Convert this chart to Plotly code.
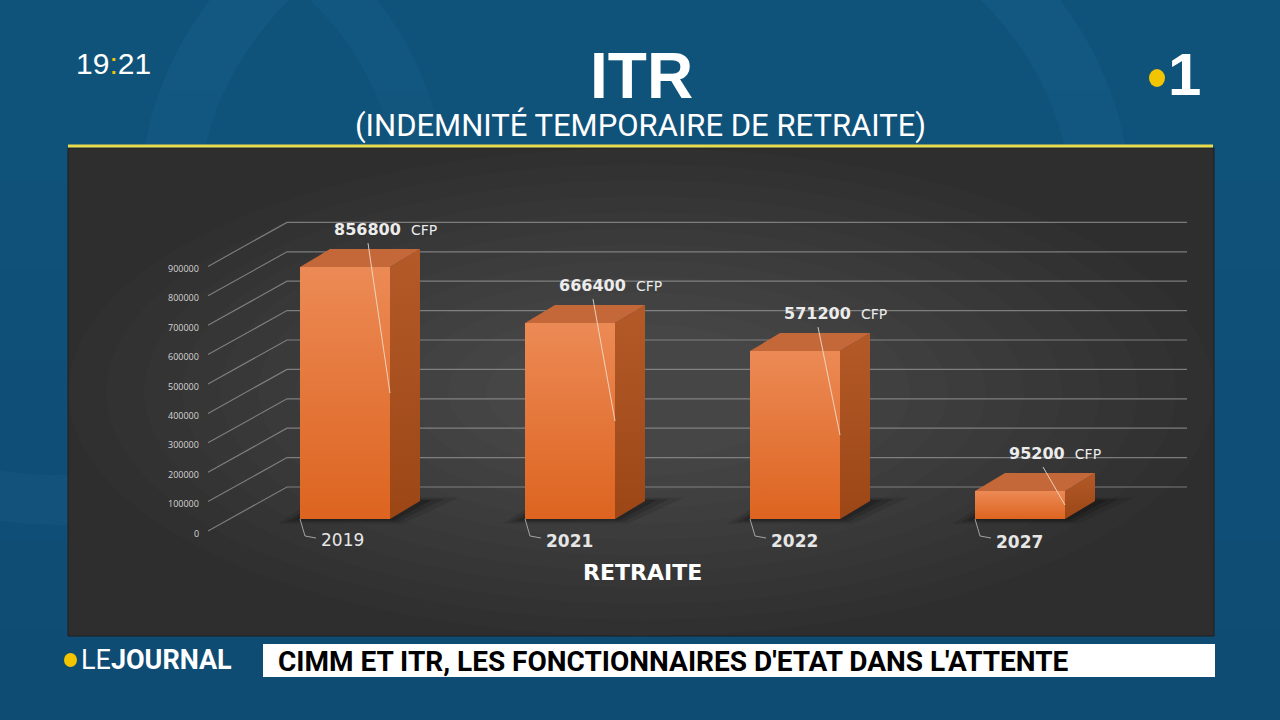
import plotly.graph_objects as go

# ---------------- data ----------------
categories = ["2019", "2021", "2022", "2027"]
values = [856800, 666400, 571200, 95200]
unit = "CFP"
tick_values = [0, 100000, 200000, 300000, 400000, 500000, 600000, 700000, 800000, 900000]
tick_labels = ["0", "100000", "200000", "300000", "400000", "500000", "600000", "700000", "800000", "900000"]
axis_title = "RETRAITE"
title = "ITR"
subtitle = "(INDEMNITÉ TEMPORAIRE DE RETRAITE)"
clock_h, clock_m = "19", "21"
banner_text = "CIMM ET ITR, LES FONCTIONNAIRES D'ETAT DANS L'ATTENTE"

W, H = 1280, 720
# axis scales (px per unit), used to express pseudo-3D depth in data units
XS = 225.0          # px per category step
X0 = 345.0          # px of first category centre
YS = 0.000294       # px per CFP
Y0 = 519.0          # px of value 0 on the bar front plane


def px2x(px):
    return (px - X0) / XS


def py2v(py):
    return (Y0 - py) / YS


def dpx(px):  # horizontal px -> category units
    return px / XS


def dpy(py):  # vertical px (upwards) -> value units
    return py / YS


def px_(x):
    return x / W


def py_(y):
    return 1 - y / H


NARROW = "Liberation Sans Narrow, Arial Narrow, Roboto, sans-serif"
SANS = "Liberation Sans, Arial, sans-serif"
LABEL = "DejaVu Sans, Verdana, sans-serif"

fig = go.Figure()

# ---------------- back wall grid ----------------
gx, gy = [], []
for t in tick_values:
    gx += [px2x(208), px2x(287), px2x(1187), None]
    gy += [t - dpy(12), t + dpy(32), t + dpy(32), None]
fig.add_trace(go.Scatter(x=gx, y=gy, mode="lines",
                         line=dict(color="rgba(150,150,150,0.75)", width=1.2),
                         hoverinfo="skip", showlegend=False))

HALF = 0.2
DX = dpx(30)
DV = dpy(18)

for i, (c, v) in enumerate(zip(categories, values)):
    l, r = i - HALF, i + HALF
    # soft shadow on the floor
    for k, a in [(1.6, 0.10), (1.0, 0.14), (0.5, 0.18)]:
        fig.add_trace(go.Scatter(
            x=[l - dpx(14 * k), r + dpx(8 * k), r + DX + dpx(24 * k), l + DX - dpx(6 * k), l - dpx(14 * k)],
            y=[-dpy(3 * k), -dpy(3 * k), DV + dpy(2 * k), DV + dpy(3 * k), -dpy(3 * k)],
            mode="lines", fill="toself", fillcolor=f"rgba(0,0,0,{a})",
            line=dict(width=0), hoverinfo="skip", showlegend=False))
    # side face
    fig.add_trace(go.Scatter(
        x=[r, r + DX, r + DX, r, r], y=[0, DV, v + DV, v, 0],
        mode="lines", fill="toself",
        fillgradient=dict(type="vertical", colorscale=[[0, "#9c4616"], [1, "#b45a28"]]),
        line=dict(width=0), hoverinfo="skip", showlegend=False))
    # top face
    fig.add_trace(go.Scatter(
        x=[l, r, r + DX, l + DX, l], y=[v, v, v + DV, v + DV, v],
        mode="lines", fill="toself", fillcolor="#c56839",
        line=dict(width=0), hoverinfo="skip", showlegend=False))
    # front face
    fig.add_trace(go.Scatter(
        x=[l, r, r, l, l], y=[0, 0, v, v, 0],
        mode="lines", fill="toself",
        fillgradient=dict(type="vertical", colorscale=[[0, "#dd6420"], [1, "#ec8a55"]]),
        line=dict(width=0), name=c,
        hovertemplate=f"{c}: {v} {unit}<extra></extra>", showlegend=False))
    # data label leader line
    fig.add_trace(go.Scatter(
        x=[l + dpx(68), r], y=[v + dpy(24), v * 0.5],
        mode="lines", line=dict(color="rgba(240,225,210,0.85)", width=1),
        hoverinfo="skip", showlegend=False))
    # category label leader line
    fig.add_trace(go.Scatter(
        x=[l, l + dpx(5), l + dpx(16)], y=[0, -dpy(17), -dpy(19)],
        mode="lines", line=dict(color="rgba(190,190,190,0.8)", width=1),
        hoverinfo="skip", showlegend=False))
    fig.add_annotation(x=l + dpx(32), y=v + dpy(38), xref="x", yref="y",
                       xanchor="left", yanchor="middle", showarrow=False,
                       text=f"<b>{v}</b>&nbsp;&nbsp;<span style='font-size:14px'>{unit}</span>",
                       font=dict(family=LABEL, size=16, color="#ececec"))
    ctext = c if i == 0 else f"<b>{c}</b>"
    fig.add_annotation(x=l + dpx(19), y=-dpy(21 + i * 0.7), xref="x", yref="y",
                       xanchor="left", yanchor="middle", showarrow=False,
                       text=ctext, font=dict(family=LABEL, size=17, color="#e6e6e6"))

# tick labels (front of the floor)
for t, lab in zip(tick_values, tick_labels):
    fig.add_annotation(x=px2x(201), y=t - dpy(14), xref="x", yref="y",
                       xanchor="right", yanchor="middle", showarrow=False,
                       text=lab, font=dict(family="Open Sans, sans-serif", size=9, color="#d4d4d4"))

# axis title
fig.add_annotation(x=px_(642), y=py_(572), xref="paper", yref="paper", showarrow=False,
                   xanchor="center", yanchor="middle",
                   text=f"<b>{axis_title}</b>", font=dict(family=LABEL, size=22, color="#ffffff"))

# ---------------- header / banner texts ----------------
fig.add_annotation(x=px_(641), y=py_(76), xref="paper", yref="paper", showarrow=False,
                   xanchor="center", yanchor="middle",
                   text=f"<b>{title}</b>", font=dict(family=SANS, size=64, color="#ffffff"))
fig.add_annotation(x=px_(640), y=py_(125), xref="paper", yref="paper", showarrow=False,
                   xanchor="center", yanchor="middle",
                   text=subtitle, font=dict(family=NARROW, size=31, color="#ffffff"))
fig.add_annotation(x=px_(74), y=py_(63), xref="paper", yref="paper", xanchor="left", yanchor="middle",
                   showarrow=False,
                   text=f"{clock_h}<span style='color:#f2c500'>:</span>{clock_m}",
                   font=dict(family=SANS, size=30, color="#ffffff"))
fig.add_annotation(x=px_(1166), y=py_(75), xref="paper", yref="paper", xanchor="left", yanchor="middle",
                   showarrow=False,
                   text="<b>1</b>", font=dict(family=SANS, size=60, color="#ffffff"))
fig.add_annotation(x=px_(79), y=py_(660), xref="paper", yref="paper", xanchor="left", yanchor="middle",
                   showarrow=False,
                   text="LE<b>JOURNAL</b>", font=dict(family=NARROW, size=27, color="#ffffff"))
fig.add_annotation(x=px_(276), y=py_(661), xref="paper", yref="paper", xanchor="left", yanchor="middle",
                   showarrow=False,
                   text=f"<b>{banner_text}</b>", font=dict(family=NARROW, size=28, color="#000000"))

# ---------------- decorative shapes ----------------
shapes = []
# background vertical shading (lighter at top)
for k in range(8):
    shapes.append(dict(type="rect", xref="paper", yref="paper", layer="below",
                       x0=0, x1=1, y0=py_(90 * (k + 1)), y1=1, line=dict(width=0),
                       fillcolor="rgba(60,140,190,0.018)"))
# background swirls
shapes.append(dict(type="circle", xref="paper", yref="paper", layer="below",
                   x0=px_(170), x1=px_(1100), y0=py_(560), y1=py_(-160),
                   line=dict(color="rgba(70,150,200,0.07)", width=60), fillcolor="rgba(0,0,0,0)"))
shapes.append(dict(type="circle", xref="paper", yref="paper", layer="below",
                   x0=px_(-300), x1=px_(420), y0=py_(500), y1=py_(-120),
                   line=dict(color="rgba(70,150,200,0.06)", width=50), fillcolor="rgba(0,0,0,0)"))
# chart panel (vignette: lighter centre)
shapes.append(dict(type="rect", xref="paper", yref="paper", layer="below",
                   x0=px_(68), x1=px_(1214), y0=py_(636), y1=py_(148),
                   fillcolor="#2e2e2e", line=dict(color="#1e1e1e", width=1)))
for k in range(12):
    shapes.append(dict(type="circle", xref="paper", yref="paper", layer="below",
                       x0=px_(68 + 38 * k), x1=px_(1214 - 38 * k),
                       y0=py_(636 - 16 * k), y1=py_(148 + 16 * k),
                       fillcolor="rgba(255,255,255,0.013)", line=dict(width=0)))
# yellow rule
shapes.append(dict(type="line", xref="paper", yref="paper", layer="above",
                   x0=px_(68), x1=px_(1213), y0=py_(146), y1=py_(146),
                   line=dict(color="#e9dc4c", width=3)))
# logo dot
shapes.append(dict(type="circle", xref="paper", yref="paper", layer="above",
                   x0=px_(1149), x1=px_(1165), y0=py_(87), y1=py_(69),
                   fillcolor="#f2c500", line=dict(width=0)))
# banner dot
shapes.append(dict(type="circle", xref="paper", yref="paper", layer="above",
                   x0=px_(64), x1=px_(77), y0=py_(667), y1=py_(653),
                   fillcolor="#f2c500", line=dict(width=0)))
# banner box
shapes.append(dict(type="rect", xref="paper", yref="paper", layer="below",
                   x0=px_(263), x1=px_(1215), y0=py_(677), y1=py_(644),
                   fillcolor="#ffffff", line=dict(width=0)))

fig.update_layout(
    width=W, height=H,
    margin=dict(l=0, r=0, t=0, b=0),
    paper_bgcolor="#0f4b73",
    plot_bgcolor="rgba(0,0,0,0)",
    shapes=shapes,
    showlegend=False,
    xaxis=dict(range=[px2x(0), px2x(W)], visible=False, fixedrange=True),
    yaxis=dict(range=[py2v(H), py2v(0)], visible=False, fixedrange=True),
)

fig.write_html("out.html", config={"displayModeBar": False})
